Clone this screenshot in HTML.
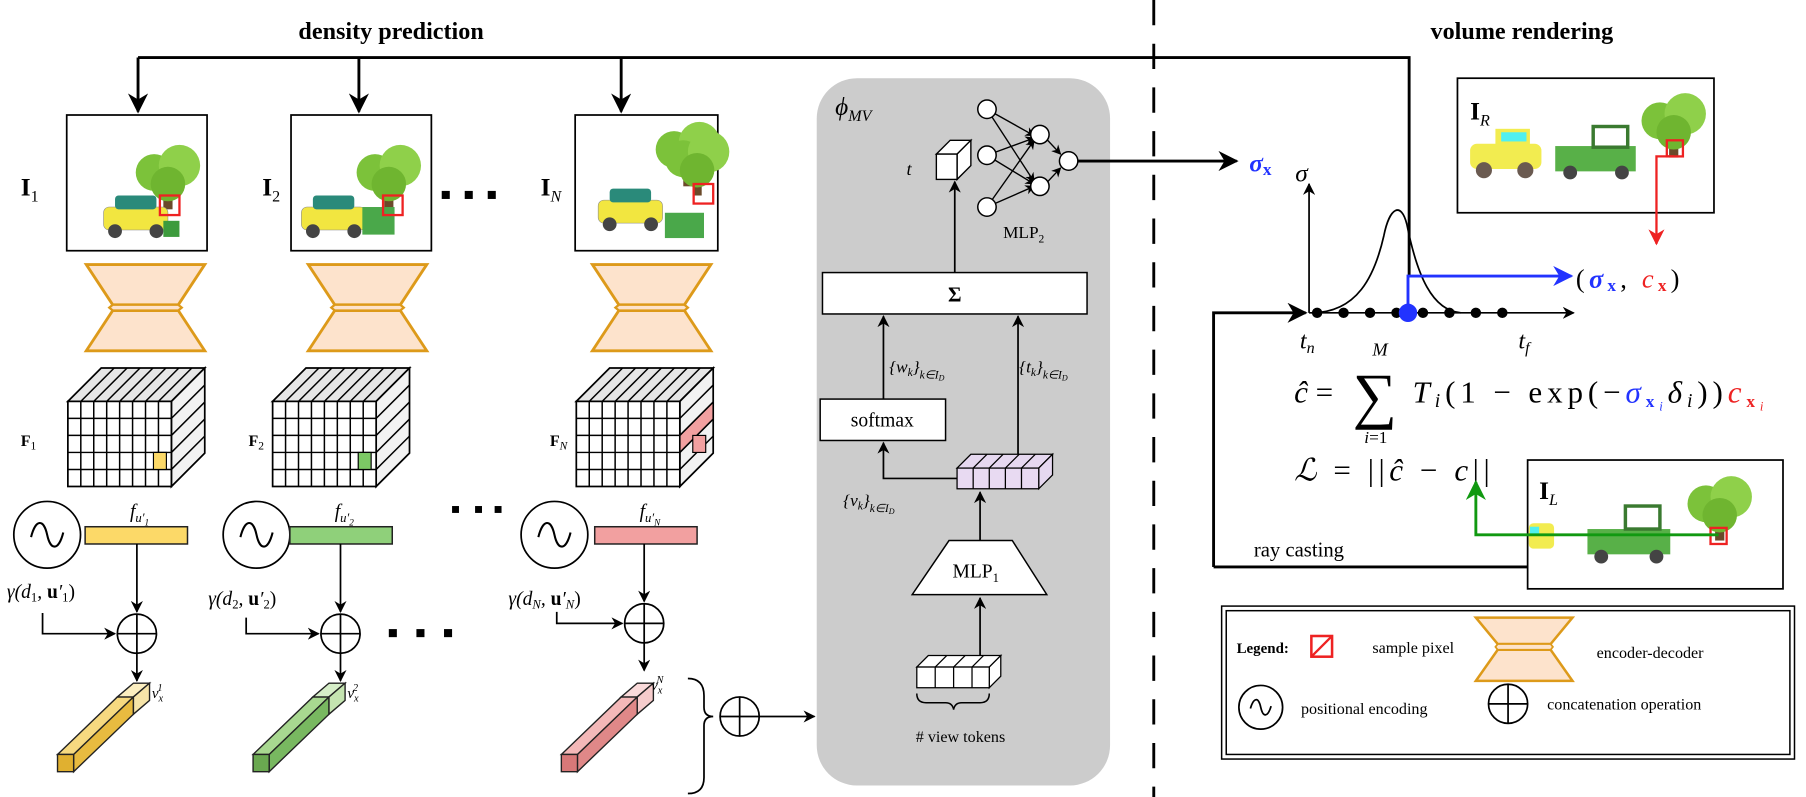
<!DOCTYPE html>
<html><head><meta charset="utf-8"><style>
html,body{margin:0;padding:0;background:#fff;}
svg{display:block;}
text{font-family:"Liberation Serif",serif;}
</style></head><body>
<svg width="1806" height="797" viewBox="0 0 1570 693" preserveAspectRatio="none" xmlns="http://www.w3.org/2000/svg">
<defs>
<marker id="ar" viewBox="0 0 10 10" refX="9" refY="5" markerWidth="7" markerHeight="7" orient="auto-start-reverse"><path d="M0,0 L10,5 L0,10 L3,5 z" fill="#000"/></marker>
<marker id="arb" viewBox="0 0 10 10" refX="9" refY="5" markerWidth="7" markerHeight="7" orient="auto"><path d="M0,0 L10,5 L0,10 L3,5 z" fill="#2233ff"/></marker>
<marker id="arr" viewBox="0 0 10 10" refX="9" refY="5" markerWidth="7" markerHeight="7" orient="auto"><path d="M0,0 L10,5 L0,10 L3,5 z" fill="#ee2222"/></marker>
<marker id="arg" viewBox="0 0 10 10" refX="9" refY="5" markerWidth="7" markerHeight="7" orient="auto"><path d="M0,0 L10,5 L0,10 L3,5 z" fill="#119911"/></marker>
<g id="cube">
 <polygon points="0,29 29,0 119,0 90,29" fill="#e6e6e6" stroke="#000" stroke-width="1.5"/>
 <polygon points="90,29 119,0 119,74 90,103" fill="#f2f2f2" stroke="#000" stroke-width="1.5"/>
 <rect x="0" y="29" width="90" height="74" fill="#fff" stroke="#000" stroke-width="1.5"/>
 <path d="M11.25,29V103M22.5,29V103M33.75,29V103M45,29V103M56.25,29V103M67.5,29V103M78.75,29V103M0,43.8H90M0,58.6H90M0,73.4H90M0,88.2H90" stroke="#000" stroke-width="1.3"/>
 <path d="M11.25,29L40.25,0M22.5,29L51.5,0M33.75,29L62.75,0M45,29L74,0M56.25,29L85.25,0M67.5,29L96.5,0M78.75,29L107.75,0M90,43.8L119,14.8M90,58.6L119,29.6M90,73.4L119,44.4M90,88.2L119,59.2" stroke="#000" stroke-width="1.3"/>
</g>
<g id="hg">
 <polygon points="0,0 103,0 80,35 23,35" fill="#fde3cc" stroke="#dd9a1a" stroke-width="2.5"/>
 <polygon points="23,40 80,40 103,75 0,75" fill="#fde3cc" stroke="#dd9a1a" stroke-width="2.5"/>
 <polygon points="23,35 80,35 83,37.5 80,40 23,40 20,37.5" fill="#fde3cc" stroke="#dd9a1a" stroke-width="2"/>
</g>
<g id="pe"><circle r="29" fill="#fff" stroke="#000" stroke-width="1.5"/><path d="M-14,2 C-10,-14 -3,-14 0,0 C3,14 10,14 14,-2" fill="none" stroke="#000" stroke-width="1.8"/></g>
<g id="plus"><circle r="17" fill="#fff" stroke="#000" stroke-width="1.5"/><path d="M-17,0H17M0,-17V17" stroke="#000" stroke-width="1.5"/></g>
<g id="tree"><rect x="-4" y="10" width="8" height="22" fill="#6b4a2a"/><circle cx="-12" cy="0" r="16" fill="#7cc23a"/><circle cx="10" cy="-6" r="18" fill="#8fd04a"/><circle cx="0" cy="10" r="15" fill="#6fb530"/></g>
<g id="ycar"><rect x="-28" y="-8" width="56" height="20" rx="5" fill="#f2e640" stroke="#888" stroke-width="0.5"/><rect x="-18" y="-18" width="36" height="12" rx="3" fill="#2a8a7a"/><circle cx="-18" cy="13" r="6" fill="#444"/><circle cx="18" cy="13" r="6" fill="#444"/></g>
</defs>

<text x="340" y="34" font-size="21" font-weight="bold" text-anchor="middle">density prediction</text>
<text x="1323" y="34" font-size="21" font-weight="bold" text-anchor="middle">volume rendering</text>

<line x1="1003" y1="0" x2="1003" y2="693" stroke="#000" stroke-width="2.5" stroke-dasharray="22,16"/>

<path d="M120,50 H1225 V240" fill="none" stroke="#000" stroke-width="2.5"/>
<line x1="120" y1="50" x2="120" y2="97" stroke="#000" stroke-width="2.5" marker-end="url(#ar)"/>
<line x1="312" y1="50" x2="312" y2="97" stroke="#000" stroke-width="2.5" marker-end="url(#ar)"/>
<line x1="540" y1="50" x2="540" y2="97" stroke="#000" stroke-width="2.5" marker-end="url(#ar)"/>

<rect x="58" y="100" width="122" height="118" fill="#fff" stroke="#000" stroke-width="1.5"/>
<rect x="253" y="100" width="122" height="118" fill="#fff" stroke="#000" stroke-width="1.5"/>
<rect x="500" y="100" width="124" height="118" fill="#fff" stroke="#000" stroke-width="1.5"/>
<use href="#tree" x="146" y="150"/><use href="#ycar" x="118" y="188"/><rect x="142" y="192" width="14" height="14" fill="#3d9b3d"/>
<rect x="139" y="170" width="17" height="17" fill="none" stroke="#ee2222" stroke-width="2"/>
<use href="#tree" x="338" y="150"/><use href="#ycar" x="290" y="188"/><rect x="315" y="180" width="28" height="24" fill="#4aa84a"/>
<rect x="333" y="170" width="17" height="17" fill="none" stroke="#ee2222" stroke-width="2"/>
<use href="#tree" x="598" y="130"/><use href="#tree" x="606" y="138"/><use href="#ycar" x="548" y="182"/><rect x="578" y="185" width="34" height="22" fill="#4aa84a"/>
<rect x="603" y="160" width="17" height="17" fill="none" stroke="#ee2222" stroke-width="2"/>
<text x="18" y="170" font-size="22" font-weight="bold">I<tspan font-size="14" font-weight="normal" dy="5">1</tspan></text>
<text x="228" y="170" font-size="22" font-weight="bold">I<tspan font-size="14" font-weight="normal" dy="5">2</tspan></text>
<text x="470" y="170" font-size="22" font-weight="bold">I<tspan font-size="14" font-style="italic" font-weight="normal" dy="5">N</tspan></text>
<rect x="384" y="166" width="7" height="7"/><rect x="404" y="166" width="7" height="7"/><rect x="424" y="166" width="7" height="7"/>

<use href="#hg" x="75" y="230"/><use href="#hg" x="268" y="230"/><use href="#hg" x="515" y="230"/>

<use href="#cube" x="59" y="320"/><rect x="133.4" y="393.4" width="11.25" height="14.8" fill="#fcd968" stroke="#000"/>
<use href="#cube" x="237" y="320"/><rect x="311.4" y="393.4" width="11.25" height="14.8" fill="#7cc865" stroke="#000"/>
<use href="#cube" x="501" y="320"/>
<polygon points="591,378.6 620,349.6 620,364.4 591,393.4" fill="#f2a0a0" stroke="#000" stroke-width="1.3"/>
<rect x="602.25" y="378.6" width="11.25" height="14.8" fill="#f2a0a0" stroke="#000"/>
<text x="18" y="388" font-size="14" font-weight="bold">F<tspan font-size="10" font-weight="normal" dy="3">1</tspan></text>
<text x="216" y="388" font-size="14" font-weight="bold">F<tspan font-size="10" font-weight="normal" dy="3">2</tspan></text>
<text x="478" y="388" font-size="14" font-weight="bold">F<tspan font-size="10" font-style="italic" font-weight="normal" dy="3">N</tspan></text>

<use href="#pe" x="41" y="465"/><use href="#pe" x="223" y="465"/><use href="#pe" x="482" y="465"/>
<rect x="74" y="458" width="89" height="15" fill="#fcd968" stroke="#222" stroke-width="1.3"/>
<rect x="252" y="458" width="89" height="15" fill="#8fd07a" stroke="#222" stroke-width="1.3"/>
<rect x="517" y="458" width="89" height="15" fill="#f2a0a0" stroke="#222" stroke-width="1.3"/>
<text x="113" y="450" font-size="17" font-style="italic">f<tspan font-size="11" dy="4">u′</tspan><tspan font-size="8" dy="3">1</tspan></text>
<text x="291" y="450" font-size="17" font-style="italic">f<tspan font-size="11" dy="4">u′</tspan><tspan font-size="8" dy="3">2</tspan></text>
<text x="556" y="450" font-size="17" font-style="italic">f<tspan font-size="11" dy="4">u′</tspan><tspan font-size="8" dy="3">N</tspan></text>
<rect x="413" y="440" width="6" height="6"/><rect x="430" y="440" width="6" height="6"/>
<rect x="393" y="440" width="6" height="6"/>

<text x="6" y="520" font-size="17" font-style="italic">γ(d<tspan font-size="11" font-style="normal" dy="3">1</tspan><tspan dy="-3">, </tspan><tspan font-weight="bold" font-style="normal">u</tspan>′<tspan font-size="11" font-style="normal" dy="3">1</tspan><tspan dy="-3" font-style="normal">)</tspan></text>
<text x="181" y="526" font-size="17" font-style="italic">γ(d<tspan font-size="11" font-style="normal" dy="3">2</tspan><tspan dy="-3">, </tspan><tspan font-weight="bold" font-style="normal">u</tspan>′<tspan font-size="11" font-style="normal" dy="3">2</tspan><tspan dy="-3" font-style="normal">)</tspan></text>
<text x="442" y="526" font-size="17" font-style="italic">γ(d<tspan font-size="11" dy="3">N</tspan><tspan dy="-3">, </tspan><tspan font-weight="bold" font-style="normal">u</tspan>′<tspan font-size="11" dy="3">N</tspan><tspan dy="-3" font-style="normal">)</tspan></text>

<g stroke="#000" stroke-width="1.5" fill="none">
<line x1="119" y1="473" x2="119" y2="532" marker-end="url(#ar)"/>
<path d="M37,533 V551 H100" marker-end="url(#ar)"/>
<line x1="119" y1="568" x2="119" y2="592" marker-end="url(#ar)"/>
<line x1="296" y1="473" x2="296" y2="532" marker-end="url(#ar)"/>
<path d="M214,537 V551 H277" marker-end="url(#ar)"/>
<line x1="296" y1="568" x2="296" y2="592" marker-end="url(#ar)"/>
<line x1="560" y1="473" x2="560" y2="523" marker-end="url(#ar)"/>
<path d="M484,532 V542 H541" marker-end="url(#ar)"/>
<line x1="560" y1="559" x2="560" y2="583" marker-end="url(#ar)"/>
</g>
<use href="#plus" x="119" y="551"/><use href="#plus" x="296" y="551"/><use href="#plus" x="560" y="542"/>
<rect x="338" y="547" width="7" height="7"/><rect x="362" y="547" width="7" height="7"/><rect x="386" y="547" width="7" height="7"/>

<g stroke="#222" stroke-width="1.2">
<polygon points="50,656 102,606 116,606 64,656" fill="#f6d980"/>
<polygon points="102,606 116,594 130,594 116,606" fill="#fbeec0"/>
<polygon points="64,656 116,606 116,621 64,671" fill="#e8bb40"/>
<polygon points="116,606 130,594 130,609 116,621" fill="#f6e4a8"/>
<rect x="50" y="656" width="14" height="15" fill="#e0b030"/>
</g>
<g stroke="#222" stroke-width="1.2">
<polygon points="220,656 272,606 286,606 234,656" fill="#a8d890"/>
<polygon points="272,606 286,594 300,594 286,606" fill="#d6eec8"/>
<polygon points="234,656 286,606 286,621 234,671" fill="#78b860"/>
<polygon points="286,606 300,594 300,609 286,621" fill="#c4e4b0"/>
<rect x="220" y="656" width="14" height="15" fill="#6aa850"/>
</g>
<g stroke="#222" stroke-width="1.2">
<polygon points="488,656 540,606 554,606 502,656" fill="#f4b8b8"/>
<polygon points="540,606 554,594 568,594 554,606" fill="#fadada"/>
<polygon points="502,656 554,606 554,621 502,671" fill="#e08888"/>
<polygon points="554,606 568,594 568,609 554,621" fill="#f6cccc"/>
<rect x="488" y="656" width="14" height="15" fill="#d87878"/>
</g>
<text x="132" y="607" font-size="13" font-style="italic">v<tspan font-size="9" dy="3">x</tspan><tspan font-size="9" dy="-9" dx="-5">1</tspan></text>
<text x="302" y="607" font-size="13" font-style="italic">v<tspan font-size="9" dy="3">x</tspan><tspan font-size="9" dy="-9" dx="-5">2</tspan></text>
<text x="566" y="600" font-size="13" font-style="italic">v<tspan font-size="9" dy="3">x</tspan><tspan font-size="9" dy="-9" dx="-5">N</tspan></text>
<path d="M598,590 Q612,590 612,605 V615 Q612,623 620,623 Q612,623 612,631 V676 Q612,690 598,690" fill="none" stroke="#000" stroke-width="1.5"/>
<use href="#plus" x="643" y="623"/>
<line x1="660" y1="623" x2="708" y2="623" stroke="#000" stroke-width="1.5" marker-end="url(#ar)"/>

<rect x="710" y="68" width="255" height="615" rx="35" fill="#cccccc"/>
<text x="726" y="100" font-size="22" font-style="italic">ϕ<tspan font-size="14" dy="5">MV</tspan></text>
<polygon points="814,134 826,122 844,122 832,134" fill="#fff" stroke="#000" stroke-width="1.2"/>
<polygon points="832,134 844,122 844,144 832,156" fill="#fff" stroke="#000" stroke-width="1.2"/>
<rect x="814" y="134" width="18" height="22" fill="#fff" stroke="#000" stroke-width="1.2"/>
<text x="788" y="152" font-size="16" font-style="italic">t</text>
<g stroke="#000" stroke-width="1.2">
<line x1="858" y1="95" x2="899" y2="118" marker-end="url(#ar)"/>
<line x1="858" y1="95" x2="899" y2="158" marker-end="url(#ar)"/>
<line x1="858" y1="135" x2="899" y2="120" marker-end="url(#ar)"/>
<line x1="858" y1="135" x2="899" y2="160" marker-end="url(#ar)"/>
<line x1="858" y1="180" x2="899" y2="122" marker-end="url(#ar)"/>
<line x1="858" y1="180" x2="899" y2="162" marker-end="url(#ar)"/>
<line x1="907" y1="118" x2="922" y2="134" marker-end="url(#ar)"/>
<line x1="907" y1="162" x2="922" y2="146" marker-end="url(#ar)"/>
</g>
<g fill="#fff" stroke="#000" stroke-width="1.3">
<circle cx="858" cy="95" r="8"/><circle cx="858" cy="135" r="8"/><circle cx="858" cy="180" r="8"/>
<circle cx="904" cy="117" r="8"/><circle cx="904" cy="162" r="8"/><circle cx="929" cy="140" r="8"/>
</g>
<text x="872" y="207" font-size="15">MLP<tspan font-size="10" dy="4">2</tspan></text>
<line x1="937" y1="140" x2="1075" y2="140" stroke="#000" stroke-width="2.5" marker-end="url(#ar)"/>
<rect x="715" y="237" width="230" height="36" fill="#fff" stroke="#000" stroke-width="1.3"/>
<text x="830" y="262" font-size="18" font-weight="bold" text-anchor="middle">Σ</text>
<line x1="830" y1="237" x2="830" y2="158" stroke="#000" stroke-width="1.5" marker-end="url(#ar)"/>
<rect x="713" y="347" width="109" height="36" fill="#fff" stroke="#000" stroke-width="1.3"/>
<text x="767" y="371" font-size="17" text-anchor="middle">softmax</text>
<line x1="768" y1="347" x2="768" y2="275" stroke="#000" stroke-width="1.5" marker-end="url(#ar)"/>
<line x1="885" y1="395" x2="885" y2="275" stroke="#000" stroke-width="1.5" marker-end="url(#ar)"/>
<text x="773" y="324" font-size="15" font-style="italic">{w<tspan font-size="10" dy="3">k</tspan><tspan dy="-3">}</tspan><tspan font-size="10" dy="5">k∈I</tspan><tspan font-size="7" dy="2">D</tspan></text>
<text x="886" y="324" font-size="15" font-style="italic">{t<tspan font-size="10" dy="3">k</tspan><tspan dy="-3">}</tspan><tspan font-size="10" dy="5">k∈I</tspan><tspan font-size="7" dy="2">D</tspan></text>
<polygon points="832,407 844,395 915,395 903,407" fill="#e6d8f0" stroke="#000" stroke-width="1.1"/>
<polygon points="903,407 915,395 915,413 903,425" fill="#e6d8f0" stroke="#000" stroke-width="1.1"/>
<rect x="832" y="407" width="71" height="18" fill="#e8daf2" stroke="#000" stroke-width="1.1"/>
<path d="M846,407V425M860,407V425M874,407V425M888,407V425M846,407L858,395M860,407L872,395M874,407L886,395M888,407L900,395" stroke="#000" stroke-width="1.1"/>
<path d="M832,416 H768 V385" fill="none" stroke="#000" stroke-width="1.5" marker-end="url(#ar)"/>
<text x="733" y="440" font-size="15" font-style="italic">{ν<tspan font-size="10" dy="3">k</tspan><tspan dy="-3">}</tspan><tspan font-size="10" dy="5">k∈I</tspan><tspan font-size="7" dy="2">D</tspan></text>
<polygon points="825,470 880,470 910,517 793,517" fill="#fff" stroke="#000" stroke-width="1.3"/>
<text x="828" y="502" font-size="17">MLP<tspan font-size="11" dy="4">1</tspan></text>
<line x1="852" y1="470" x2="852" y2="428" stroke="#000" stroke-width="1.5" marker-end="url(#ar)"/>
<polygon points="797,580 807,570 870,570 860,580" fill="#fff" stroke="#000" stroke-width="1.1"/>
<polygon points="860,580 870,570 870,588 860,598" fill="#fff" stroke="#000" stroke-width="1.1"/>
<rect x="797" y="580" width="63" height="18" fill="#fff" stroke="#000" stroke-width="1.1"/>
<path d="M813,580V598M829,580V598M845,580V598M813,580L823,570M829,580L839,570M845,580L855,570" stroke="#000" stroke-width="1.1"/>
<line x1="852" y1="570" x2="852" y2="520" stroke="#000" stroke-width="1.5" marker-end="url(#ar)"/>
<path d="M797,603 Q797,611 805,611 H822 Q828,611 829,617 Q830,611 836,611 H852 Q860,611 860,603" fill="none" stroke="#000" stroke-width="1.3"/>
<text x="835" y="645" font-size="14" text-anchor="middle"># view tokens</text>

<text x="1086" y="149" font-size="22" font-style="italic" font-weight="bold" fill="#2233ff">σ<tspan font-style="normal" font-size="15" dy="3">x</tspan></text>
<text x="1126" y="158" font-size="22" font-style="italic">σ</text>
<line x1="1138" y1="272" x2="1138" y2="160" stroke="#000" stroke-width="1.5" marker-end="url(#ar)"/>
<line x1="1138" y1="272" x2="1368" y2="272" stroke="#000" stroke-width="1.5" marker-end="url(#ar)"/>
<path d="M1140,272 C1180,272 1195,240 1203,205 C1208,180 1218,175 1223,195 C1232,240 1245,270 1270,272" fill="none" stroke="#000" stroke-width="1.5"/>
<g fill="#000"><circle cx="1145" cy="272" r="4.5"/><circle cx="1168" cy="272" r="4.5"/><circle cx="1191" cy="272" r="4.5"/><circle cx="1214" cy="272" r="4.5"/><circle cx="1260" cy="272" r="4.5"/><circle cx="1283" cy="272" r="4.5"/><circle cx="1306" cy="272" r="4.5"/><circle cx="1237" cy="272" r="4.5"/></g>
<path d="M1224,272 V240 H1366" fill="none" stroke="#2233ff" stroke-width="2.5" marker-end="url(#arb)"/>
<circle cx="1224" cy="272" r="8" fill="#2233ff"/>
<text x="1370" y="250" font-size="23" textLength="90" lengthAdjust="spacing">(<tspan fill="#2233ff" font-weight="bold" font-style="italic">σ<tspan font-style="normal" font-size="15" dy="3">x</tspan></tspan><tspan dy="-3">, </tspan><tspan fill="#ee2222" font-style="italic">c<tspan font-weight="bold" font-style="normal" font-size="15" dy="3">x</tspan></tspan><tspan dy="-3">)</tspan></text>
<text x="1130" y="303" font-size="21" font-style="italic">t<tspan font-size="14" dy="4">n</tspan></text>
<text x="1320" y="303" font-size="21" font-style="italic">t<tspan font-size="14" dy="4">f</tspan></text>
<path d="M1055,493 V272 H1135" fill="none" stroke="#000" stroke-width="2.5" marker-end="url(#ar)"/>
<line x1="1055" y1="493" x2="1330" y2="493" stroke="#000" stroke-width="2.5"/>
<text x="1090" y="484" font-size="18" font-family="Liberation Sans, sans-serif">ray casting</text>
<text x="1125" y="350" font-size="27" font-style="italic">ĉ <tspan font-style="normal">=</tspan></text>
<text x="1176" y="362" font-size="54">∑</text>
<text x="1193" y="309" font-size="16" font-style="italic">M</text>
<text x="1186" y="385" font-size="15" font-style="italic">i<tspan font-style="normal">=1</tspan></text>
<text x="1228" y="350" font-size="27" font-style="italic" textLength="305" lengthAdjust="spacing">T<tspan font-size="17" dy="4">i</tspan><tspan font-style="normal" dy="-4">(1 − exp(−</tspan><tspan fill="#2233ff">σ<tspan font-weight="bold" font-style="normal" font-size="15" dy="4">x</tspan><tspan font-size="11" dy="3">i</tspan></tspan><tspan dy="-7">δ</tspan><tspan font-size="17" dy="4">i</tspan><tspan font-style="normal" dy="-4">))</tspan><tspan fill="#ee2222">c<tspan font-weight="bold" font-style="normal" font-size="15" dy="4">x</tspan><tspan font-size="11" dy="3">i</tspan></tspan></text>
<text x="1125" y="418" font-size="27" font-style="italic" textLength="170" lengthAdjust="spacing">ℒ <tspan font-style="normal">= ||</tspan>ĉ <tspan font-style="normal">−</tspan> c<tspan font-style="normal">||</tspan></text>
<rect x="1267" y="68" width="223" height="117" fill="#fff" stroke="#000" stroke-width="1.5"/>
<text x="1278" y="104" font-size="22" font-weight="bold">I<tspan font-size="14" font-style="italic" font-weight="normal" dy="5">R</tspan></text>
<rect x="1278" y="125" width="62" height="22" rx="6" fill="#f2ec50"/><rect x="1300" y="112" width="30" height="14" fill="#f2ec50"/><rect x="1305" y="115" width="22" height="8" fill="#50f0f0"/>
<circle cx="1290" cy="148" r="7" fill="#6a5a50"/><circle cx="1326" cy="148" r="7" fill="#6a5a50"/>
<rect x="1352" y="127" width="70" height="22" fill="#58b048"/><rect x="1385" y="110" width="30" height="18" fill="none" stroke="#3a7a30" stroke-width="3"/>
<circle cx="1365" cy="150" r="6" fill="#444"/><circle cx="1410" cy="150" r="6" fill="#444"/>
<use href="#tree" x="1455" y="105"/>
<rect x="1449" y="122" width="14" height="14" fill="none" stroke="#ee2222" stroke-width="2"/>
<path d="M1455,136 H1440 V212" fill="none" stroke="#ee2222" stroke-width="2" marker-end="url(#arr)"/>
<rect x="1328" y="400" width="222" height="112" fill="#fff" stroke="#000" stroke-width="1.5"/>
<text x="1338" y="434" font-size="22" font-weight="bold">I<tspan font-size="14" font-style="italic" font-weight="normal" dy="5">L</tspan></text>
<rect x="1329" y="455" width="22" height="22" rx="4" fill="#f2ec50"/><rect x="1330" y="458" width="8" height="6" fill="#50f0f0"/>
<rect x="1380" y="460" width="72" height="22" fill="#58b048"/><rect x="1413" y="440" width="30" height="20" fill="none" stroke="#3a7a30" stroke-width="3"/>
<circle cx="1392" cy="484" r="6" fill="#444"/><circle cx="1440" cy="484" r="6" fill="#444"/>
<use href="#tree" x="1495" y="438"/>
<rect x="1487" y="459" width="14" height="14" fill="none" stroke="#ee2222" stroke-width="2"/>
<path d="M1494,465 H1283 V419" fill="none" stroke="#119911" stroke-width="2.5" marker-end="url(#arg)"/>
<rect x="1062" y="527" width="498" height="133" fill="#fff" stroke="#000" stroke-width="1.3"/>
<rect x="1066" y="531" width="490" height="125" fill="none" stroke="#000" stroke-width="1.3"/>
<text x="1075" y="568" font-size="13" font-weight="bold">Legend:</text>
<rect x="1140" y="553" width="18" height="18" fill="none" stroke="#ee2222" stroke-width="2.2"/><line x1="1140" y1="571" x2="1158" y2="553" stroke="#ee2222" stroke-width="2"/>
<text x="1193" y="568" font-size="14">sample pixel</text>
<polygon points="1283,537 1367,537 1348,560 1302,560" fill="#fde3cc" stroke="#dd9a1a" stroke-width="2.2"/>
<polygon points="1302,565 1348,565 1367,592 1283,592" fill="#fde3cc" stroke="#dd9a1a" stroke-width="2.2"/>
<polygon points="1302,560 1348,560 1350,562.5 1348,565 1302,565 1300,562.5" fill="#fde3cc" stroke="#dd9a1a" stroke-width="1.5"/>
<text x="1388" y="572" font-size="14">encoder-decoder</text>
<circle cx="1096" cy="615" r="19" fill="#fff" stroke="#000" stroke-width="1.5"/><path d="M-9,1 C-6,-9 -2,-9 0,0 C2,9 6,9 9,-1" transform="translate(1096,615)" fill="none" stroke="#000" stroke-width="1.5"/>
<text x="1131" y="621" font-size="14">positional encoding</text>
<circle cx="1311" cy="612" r="17" fill="#fff" stroke="#000" stroke-width="1.5"/><path d="M1294,612H1328M1311,595V629" stroke="#000" stroke-width="1.5"/>
<text x="1345" y="617" font-size="14">concatenation operation</text>
</svg>
</body></html>
